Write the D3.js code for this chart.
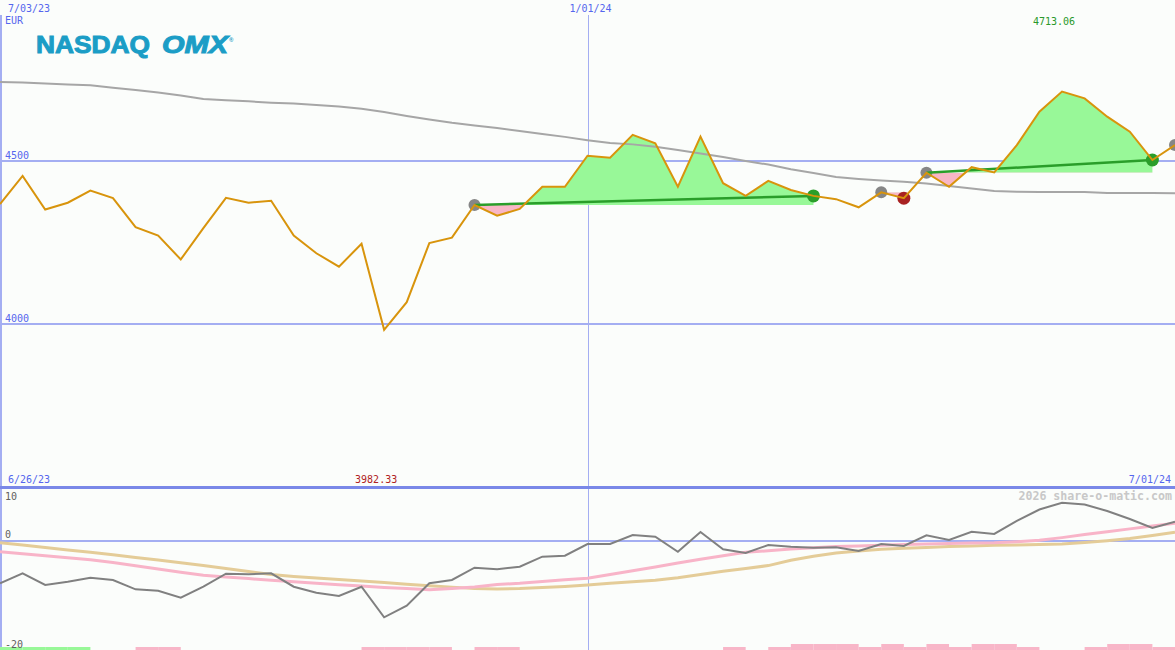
<!DOCTYPE html>
<html>
<head>
<meta charset="utf-8">
<script src="https://cdn.jsdelivr.net/npm/d3@7/dist/d3.min.js"></script>
<style>
  html, body { margin: 0; padding: 0; background: #fbfdfb; }
  svg { display: block; }
  text { font-family: "DejaVu Sans Mono", monospace; }
</style>
</head>
<body>
<svg id="chart" width="1175" height="650"></svg>
<script>
// ---------------- DATA ----------------
const weeks = [
  "2023-07-03","2023-07-10","2023-07-17","2023-07-24","2023-07-31","2023-08-07","2023-08-14","2023-08-21","2023-08-28",
  "2023-09-04","2023-09-11","2023-09-18","2023-09-25","2023-10-02","2023-10-09","2023-10-16","2023-10-23","2023-10-30",
  "2023-11-06","2023-11-13","2023-11-20","2023-11-27","2023-12-04","2023-12-11","2023-12-18","2023-12-25",
  "2024-01-01","2024-01-08","2024-01-15","2024-01-22","2024-01-29","2024-02-05","2024-02-12","2024-02-19","2024-02-26",
  "2024-03-04","2024-03-11","2024-03-18","2024-03-25","2024-04-01","2024-04-08","2024-04-15","2024-04-22","2024-04-29",
  "2024-05-06","2024-05-13","2024-05-20","2024-05-27","2024-06-03","2024-06-10","2024-06-17","2024-06-24","2024-07-01"
];
const price = [
  4368, 4454, 4351, 4372, 4409, 4386, 4297, 4271, 4198, 4294, 4387, 4372, 4378, 4271, 4217, 4176, 4246, 3982.33,
  4067, 4248, 4265, 4365, 4332, 4353, 4421, 4421, 4516, 4510, 4580, 4554, 4421, 4575, 4432, 4393, 4439, 4411,
  4393, 4383, 4358, 4404, 4386, 4464, 4421, 4481, 4465, 4549, 4651, 4713.06, 4692, 4636, 4590, 4503, 4549
];
const longAvg = [
  4742, 4741, 4738, 4735, 4732, 4725, 4718, 4710, 4701, 4690, 4686, 4683, 4679, 4676, 4672, 4667, 4660, 4650,
  4638, 4627, 4617, 4609, 4601, 4592, 4583, 4574, 4564, 4555, 4551, 4544, 4534, 4523, 4512, 4500, 4489, 4475,
  4463, 4451, 4445, 4440, 4436, 4431, 4423, 4416, 4408, 4406, 4405, 4405, 4405, 4402, 4402, 4402, 4401
];
// trade signals (indices into weeks)
const signalStart  = [21, 39, 41, 52];
const signalEnd    = [36, 40, 51, null];
const signalResult = ["win", "loss", "win", "open"];

// lower panel oscillator
const oscMain = [
  -8.13, -6.21, -8.46, -7.83, -7.06, -7.5, -9.29, -9.56, -10.9, -8.79, -6.29, -6.4, -6.21, -8.79, -9.94, -10.58, -8.79, -14.67,
  -12.44, -8.13, -7.5, -5.13, -5.44, -4.94, -3.02, -2.83, -0.58, -0.58, 1.15, 0.83, -2.06, 1.73, -1.6, -2.31, -0.77, -1.1,
  -1.29, -1.21, -1.92, -0.58, -0.96, 1.1, 0.19, 1.79, 1.35, 3.85, 6.06, 7.37, 7.02, 5.77, 4.23, 2.5, 3.71
];
const oscSignal = [
  -2.06, -2.44, -2.85, -3.23, -3.62, -4.15, -4.77, -5.38, -6.0, -6.58, -6.92, -7.23, -7.56, -7.83, -8.12, -8.4, -8.65, -8.92,
  -9.15, -9.38, -9.13, -8.85, -8.38, -8.13, -7.77, -7.46, -7.17, -6.46, -5.71, -4.98, -4.25, -3.5, -2.83, -2.17, -1.87, -1.54,
  -1.29, -1.08, -0.96, -0.83, -0.69, -0.6, -0.5, -0.4, -0.35, -0.13, 0.13, 0.65, 1.25, 1.79, 2.33, 2.88, 3.4
];
const oscSlow = [
  -0.33, -0.79, -1.25, -1.71, -2.17, -2.65, -3.17, -3.67, -4.19, -4.69, -5.27, -5.88, -6.46, -6.81, -7.13, -7.42, -7.67, -7.96,
  -8.31, -8.6, -8.87, -9.12, -9.23, -9.15, -8.96, -8.73, -8.46, -8.13, -7.85, -7.54, -7.06, -6.44, -5.83, -5.27, -4.73, -3.71,
  -2.94, -2.31, -1.92, -1.6, -1.38, -1.23, -1.08, -0.96, -0.83, -0.77, -0.69, -0.6, -0.31, 0.04, 0.48, 1.06, 1.67
];
// weekly signal bars (one per interval): + green, - pink
const weekBars = [
  1, 1, 1, 1, 0, 0, -1, -1, 0, 0, 0, 0, 0, 0, 0, 0, -1, -1, -1, -1, 0, -1, -1, 0, 0, 0,
  0, 0, 0, 0, 0, 0, -1, 0, -1, -2, -2, -2, -1, -2, -1, -2, -1, -2, -2, -1, 0, 0, -1, -2, -2, -1
];
const priceTicks = [4500, 4000];
const oscTicks = [10, 0, -20];
const topDateLabels = ["2023-07-03", "2024-01-01"];
const gridDates = ["2024-01-01"];

// ---------------- DRAW ----------------
const W = 1175, H = 650;
const parse = d3.timeParse("%Y-%m-%d");
const dates = weeks.map(parse);
const fmtDate = d => (d.getMonth() + 1) + "/" + d3.timeFormat("%d/%y")(d);

const svg = d3.select("#chart");
svg.append("rect").attr("width", W).attr("height", H).attr("fill", "#fbfdfb");

const x = d3.scaleTime().domain([parse("2023-07-03"), parse("2024-07-01")]).range([0, W]);
const y = d3.scaleLinear().domain([4000, 4500]).range([324, 161]);
const yo = d3.scaleLinear().domain([-20, 10]).range([645, 489]);

const gridColor = "#a4aef2";
const labelBlue = "#5566ee";

// grid lines (upper)
svg.selectAll("line.hgrid").data(priceTicks).join("line")
  .attr("x1", 0).attr("x2", W)
  .attr("y1", d => Math.round(y(d))).attr("y2", d => Math.round(y(d)))
  .attr("stroke", gridColor).attr("stroke-width", 2).attr("shape-rendering", "crispEdges");
svg.selectAll("text.hlab").data(priceTicks).join("text")
  .attr("x", 5).attr("y", d => y(d) - 2.5)
  .attr("font-size", 10).attr("fill", labelBlue).text(d => d);

// vertical grid
svg.selectAll("line.vgrid").data(gridDates).join("line")
  .attr("x1", d => Math.round(x(parse(d))) + 0.5).attr("x2", d => Math.round(x(parse(d))) + 0.5)
  .attr("y1", 15).attr("y2", H)
  .attr("stroke", gridColor).attr("stroke-width", 1).attr("shape-rendering", "crispEdges");

// left border
svg.append("line").attr("x1", 1).attr("x2", 1).attr("y1", 15).attr("y2", H)
  .attr("stroke", gridColor).attr("stroke-width", 2).attr("shape-rendering", "crispEdges");

// top date labels
svg.selectAll("text.tdate").data(topDateLabels).join("text")
  .attr("x", d => Math.max(29, x(parse(d)) + 3)).attr("y", 12)
  .attr("text-anchor", "middle").attr("font-size", 10).attr("fill", labelBlue)
  .text(d => fmtDate(parse(d)));
svg.append("text").attr("x", 5).attr("y", 24).attr("font-size", 10).attr("fill", labelBlue).text("EUR");

// logo
const logo = svg.append("g").attr("fill", "#1b9dc6").attr("font-weight", "bold");
logo.append("text").attr("x", 36).attr("y", 53).attr("font-size", 24)
  .attr("textLength", 114).attr("lengthAdjust", "spacingAndGlyphs")
  .attr("stroke", "#1b9dc6").attr("stroke-width", 1)
  .style("font-family", "Liberation Sans, Arial, sans-serif").text("NASDAQ");
logo.append("text").attr("x", 162).attr("y", 53).attr("font-size", 24).attr("font-style", "italic")
  .attr("textLength", 66).attr("lengthAdjust", "spacingAndGlyphs")
  .attr("stroke", "#1b9dc6").attr("stroke-width", 1)
  .style("font-family", "Liberation Sans, Arial, sans-serif").text("OMX");
logo.append("text").attr("x", 229).attr("y", 42).attr("font-size", 6)
  .style("font-family", "Liberation Sans, Arial, sans-serif").text("®");

// signal fills
const defs = svg.append("defs");
signalStart.forEach((s, k) => {
  const e = signalEnd[k];
  if (e === null) return;
  const seg = d3.range(s, e + 1);
  const base = price[s];
  const by = y(base);
  defs.append("clipPath").attr("id", "above" + k).append("rect")
    .attr("x", 0).attr("y", 0).attr("width", W).attr("height", by);
  defs.append("clipPath").attr("id", "below" + k).append("rect")
    .attr("x", 0).attr("y", by).attr("width", W).attr("height", 487 - by);
  const area = d3.area().x(i => x(dates[i])).y0(by).y1(i => y(price[i]));
  svg.append("path").datum(seg).attr("d", area).attr("fill", "#98f898").attr("clip-path", `url(#above${k})`);
  svg.append("path").datum(seg).attr("d", area).attr("fill", "#f8b6c6").attr("clip-path", `url(#below${k})`);
});

// long average
const idx = d3.range(weeks.length);
svg.append("path").datum(idx)
  .attr("d", d3.line().x(i => x(dates[i])).y(i => y(longAvg[i])))
  .attr("fill", "none").attr("stroke", "#a6a6a6").attr("stroke-width", 2);

// signal dots
signalStart.forEach((s, k) => {
  svg.append("circle").attr("cx", x(dates[s])).attr("cy", y(price[s])).attr("r", 6).attr("fill", "#868686");
  const e = signalEnd[k];
  if (e !== null) {
    svg.append("circle").attr("cx", x(dates[e])).attr("cy", y(price[e])).attr("r", 6.5)
      .attr("fill", signalResult[k] === "win" ? "#2a9e2a" : "#a82222");
  }
});
// trend lines for winning signals
signalStart.forEach((s, k) => {
  const e = signalEnd[k];
  if (e === null || signalResult[k] !== "win") return;
  svg.append("line").attr("x1", x(dates[s])).attr("y1", y(price[s]))
    .attr("x2", x(dates[e])).attr("y2", y(price[e]))
    .attr("stroke", "#2a9e2a").attr("stroke-width", 2.5);
});

// price line
svg.append("path").datum(idx)
  .attr("d", d3.line().x(i => x(dates[i])).y(i => y(price[i])))
  .attr("fill", "none").attr("stroke", "#d8940c").attr("stroke-width", 2);

// min / max labels
const iMax = d3.maxIndex(price), iMin = d3.minIndex(price);
svg.append("text").attr("x", x(dates[iMax]) - 8).attr("y", 25).attr("text-anchor", "middle")
  .attr("font-size", 10).attr("fill", "#2a992a").text(price[iMax].toFixed(2));
svg.append("text").attr("x", x(dates[iMin]) - 8).attr("y", 483).attr("text-anchor", "middle")
  .attr("font-size", 10).attr("fill", "#b02222").text(price[iMin].toFixed(2));

// bottom range labels
svg.append("text").attr("x", 8).attr("y", 483).attr("font-size", 10).attr("fill", labelBlue)
  .text(fmtDate(d3.timeDay.offset(dates[0], -7)));
svg.append("text").attr("x", 1171).attr("y", 483).attr("text-anchor", "end").attr("font-size", 10).attr("fill", labelBlue)
  .text(fmtDate(dates[dates.length - 1]));

// separator
svg.append("line").attr("x1", 0).attr("x2", W).attr("y1", 487.5).attr("y2", 487.5)
  .attr("stroke", "#7a88e8").attr("stroke-width", 3).attr("shape-rendering", "crispEdges");

// lower panel
svg.append("line").attr("x1", 0).attr("x2", W).attr("y1", Math.round(yo(0))).attr("y2", Math.round(yo(0)))
  .attr("stroke", gridColor).attr("stroke-width", 2).attr("shape-rendering", "crispEdges");
svg.append("text").attr("x", 1172).attr("y", 500).attr("text-anchor", "end")
  .attr("font-size", 11.6).attr("font-weight", "bold").attr("fill", "#c8c8c8").text("2026 share-o-matic.com");

// weekly bars
svg.selectAll("rect.wbar").data(weekBars.map((v, i) => ({v, i})).filter(d => d.v !== 0)).join("rect")
  .attr("x", d => x(dates[d.i])).attr("width", d => x(dates[d.i + 1]) - x(dates[d.i]))
  .attr("y", d => H - 3 * Math.abs(d.v)).attr("height", d => 3 * Math.abs(d.v))
  .attr("fill", d => d.v > 0 ? "#98f898" : "#f8b6c8");

const oscLine = arr => d3.line().x(i => x(dates[i])).y(i => yo(arr[i]));
svg.append("path").datum(idx).attr("d", oscLine(oscSlow))
  .attr("fill", "none").attr("stroke", "#e4cc98").attr("stroke-width", 3);
svg.append("path").datum(idx).attr("d", oscLine(oscSignal))
  .attr("fill", "none").attr("stroke", "#f8b4c8").attr("stroke-width", 3);
svg.append("path").datum(idx).attr("d", oscLine(oscMain))
  .attr("fill", "none").attr("stroke", "#808080").attr("stroke-width", 2);

// osc labels
const oscLabY = {10: 500, 0: 538, "-20": 648};
svg.selectAll("text.olab").data(oscTicks).join("text")
  .attr("x", 5).attr("y", d => oscLabY[d]).attr("font-size", 10).attr("fill", "#606060").text(d => d);
</script>
</body>
</html>
